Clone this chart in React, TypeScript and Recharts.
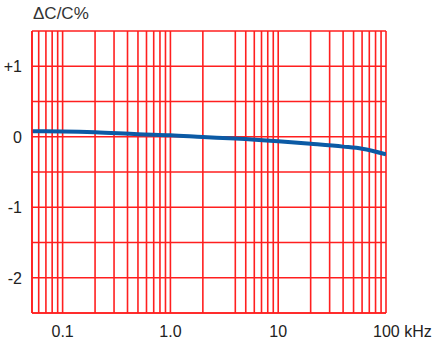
import { CartesianGrid, Line, LineChart, XAxis, YAxis } from "recharts";

// frequency in kHz, capacitance change in %
const freq = [0.052, 0.1, 0.2, 0.5, 1, 2, 4, 10, 20, 40, 60, 100];
const deltaC = [0.078, 0.075, 0.064, 0.035, 0.02, -0.004, -0.025, -0.064, -0.1, -0.14, -0.17, -0.25];

const xGrid = [
    0.06, 0.07, 0.08, 0.09,
    0.1, 0.2, 0.3, 0.4, 0.5, 0.6, 0.7, 0.8, 0.9,
    1, 2, 4, 5, 6, 7, 8, 9,
    10, 20, 30, 40, 50, 60, 70, 80, 90,
    100,
];
const xLabels: Record<number, string> = { 0.1: "0.1", 1: "1.0", 10: "10", 100: "100" };
const yGrid = [-2.5, -2, -1.5, -1, -0.5, 0, 0.5, 1, 1.5];
const yLabels: Record<number, string> = { 1: "+1", 0: "0", [-1]: "-1", [-2]: "-2" };

const data = freq.map((f, i) => ({ freq: f, dc: deltaC[i] }));

const font = "'Liberation Sans', Arial, sans-serif";

const XTick = (props: any) => {
    const { x, y, payload } = props;
    const label = xLabels[payload.value];
    if (!label) return null;
    // the last label carries the unit, with the number still centred on its line
    if (payload.value === 100) {
        return (
            <text x={x - 13} y={y} dy={22} textAnchor="start" fill="#222" fontSize={16} fontFamily={font}>
                {label} kHz
            </text>
        );
    }
    return (
        <text x={x} y={y} dy={22} textAnchor="middle" fill="#222" fontSize={16} fontFamily={font}>
            {label}
        </text>
    );
};

const YTick = (props: any) => {
    const { x, y, payload } = props;
    const label = yLabels[payload.value];
    if (!label) return null;
    return (
        <text x={x - 8} y={y} dy={6} textAnchor="end" fill="#222" fontSize={16} fontFamily={font}>
            {label}
        </text>
    );
};

export default function App() {
    return (
        <div style={{ position: "absolute", left: 0, top: 0, width: 444, height: 340, background: "#fff" }}>
            <div style={{
                position: "absolute", left: 33, top: 4, fontFamily: font, fontSize: 17,
                color: "#333", lineHeight: "20px"
            }}>
                ΔC/C%
            </div>
            <LineChart
                width={444}
                height={340}
                data={data}
                margin={{ top: 31, right: 58, left: 0, bottom: 0 }}
            >
                <CartesianGrid stroke="#ff1f1f" strokeWidth={1.6} />
                <XAxis
                    dataKey="freq"
                    type="number"
                    scale="log"
                    domain={[0.052, 100]}
                    allowDataOverflow
                    ticks={xGrid}
                    interval={0}
                    height={27}
                    tickSize={0}
                    tickLine={false}
                    axisLine={{ stroke: "#ff1f1f", strokeWidth: 1.6 }}
                    tick={<XTick />}
                />
                <YAxis
                    type="number"
                    domain={[-2.5, 1.5]}
                    ticks={yGrid}
                    interval={0}
                    width={32}
                    tickSize={0}
                    tickLine={false}
                    axisLine={{ stroke: "#ff1f1f", strokeWidth: 1.6 }}
                    tick={<YTick />}
                />
                <Line
                    type="monotone"
                    dataKey="dc"
                    stroke="#0b5aa5"
                    strokeWidth={4}
                    dot={false}
                    isAnimationActive={false}
                />
            </LineChart>
        </div>
    );
}
